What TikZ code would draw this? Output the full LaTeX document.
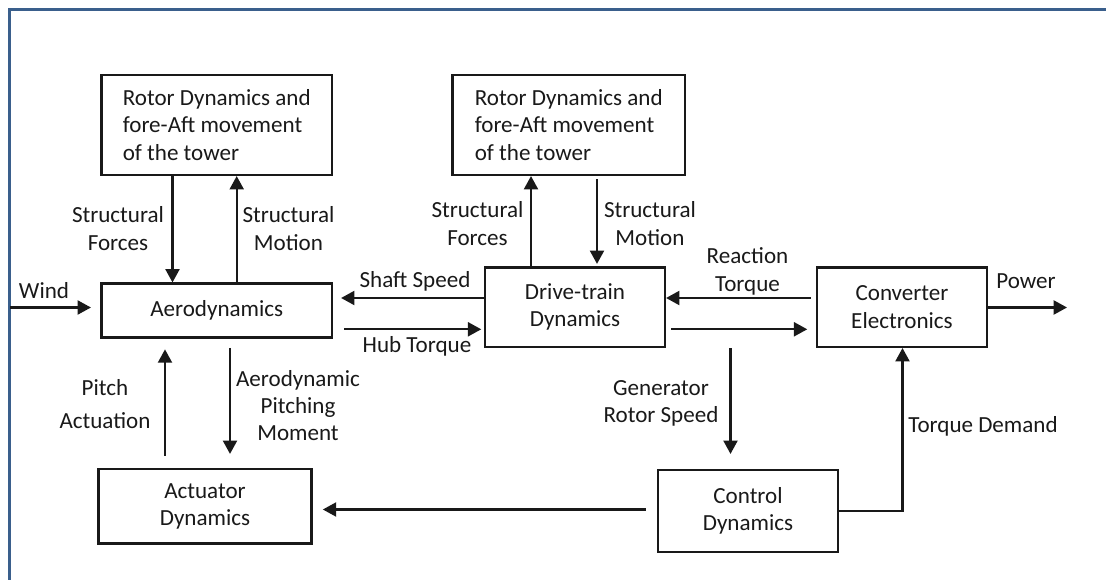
\documentclass[tikz,border=0pt]{standalone}
\usepackage{fontspec}
\setmainfont{Carlito}
\usetikzlibrary{arrows.meta}
\definecolor{framecol}{RGB}{58,95,140}
\definecolor{ink}{RGB}{25,25,25}
\begin{document}
\begin{tikzpicture}[x=0.75pt,y=-0.75pt,
  every node/.style={font=\fontsize{17.3}{20.5}\selectfont, text=ink},
  box/.style={draw=ink, line width=1.6pt, align=center, inner sep=0pt},
  lbl/.style={align=center, inner sep=0pt},
  flow/.style={draw=ink, line width=1.6pt, -{Triangle[length=10pt,width=10.5pt]}}]
\useasboundingbox (0,0) rectangle (1106,580);

% page frame
\draw[framecol, line width=2.4pt] (9.5,580) -- (9.5,9.5) -- (1106,9.5);

% blocks
\node[box, align=left, minimum width=172.9pt, minimum height=75pt] (rotA) at (216.75,125)
  {Rotor Dynamics and\\fore-Aft movement\\of the tower};
\node[box, align=left, minimum width=174.4pt, minimum height=75pt] (rotB) at (568.75,125)
  {Rotor Dynamics and\\fore-Aft movement\\of the tower};
\node[box, minimum width=172.9pt, minimum height=40.5pt] (aero) at (216.75,310.5) {Aerodynamics};
\node[box, minimum width=135pt, minimum height=59.6pt] (drive) at (575,307.25) {Drive-train\\Dynamics};
\node[box, minimum width=127.5pt, minimum height=59.6pt] (conv) at (902,307.25) {Converter\\Electronics};
\node[box, minimum width=159.75pt, minimum height=55.9pt] (act) at (205,506.25) {Actuator\\Dynamics};
\node[box, minimum width=135pt, minimum height=61.5pt] (ctrl) at (748,511) {Control\\Dynamics};

% signal labels
\node[lbl] (lWind) at (44,291) {Wind};
\node[lbl] (lSFL) at (118,228.5) {Structural\\Forces};
\node[lbl] (lSML) at (288.5,228.5) {Structural\\Motion};
\node[lbl] (lSFR) at (477.5,223.5) {Structural\\Forces};
\node[lbl] (lSMR) at (650,223.5) {Structural\\Motion};
\node[lbl] (lPA) at (105,404) {Pitch\\[4pt]Actuation};
\node[lbl] (lAPM) at (298,405.5) {Aerodynamic\\Pitching\\Moment};
\node[lbl] (lShaft) at (415,281) {Shaft Speed};
\node[lbl] (lHub) at (417,346) {Hub Torque};
\node[lbl] (lReact) at (747.5,271.5) {Reaction\\Torque};
\node[lbl] (lPow) at (1026,281) {Power};
\node[lbl] (lGen) at (661,403.5) {Generator\\Rotor Speed};
\node[lbl] (lTD) at (983,426) {Torque Demand};

% signal columns and rows
\coordinate (cSFL) at (172.5,0);
\coordinate (cSML) at (236.7,0);
\coordinate (cPA) at (165,0);
\coordinate (cAPM) at (230,0);
\coordinate (cSFR) at (531,0);
\coordinate (cSMR) at (597,0);
\coordinate (cGRS) at (730.5,0);
\coordinate (cTD) at (902.5,0);
\coordinate (yTop) at (0,298);
\coordinate (yBot) at (0,329.3);
\coordinate (yCA) at (0,509.5);
\coordinate (yTD) at (0,511);
\coordinate (windin) at (10,307.5);
\coordinate (powout) at (1067,307.5);

% connectors
\draw[flow, shorten >=7.1pt] (windin) -- (aero.west |- windin);
\draw[flow] (rotA.south -| cSFL) -- (aero.north -| cSFL);
\draw[flow] (aero.north -| cSML) -- (rotA.south -| cSML);
\draw[flow, shorten <=9.2pt, shorten >=8.1pt] (act.north -| cPA) -- (aero.south -| cPA);
\draw[flow, shorten <=6.9pt, shorten >=10.5pt] (aero.south -| cAPM) -- (act.north -| cAPM);
\draw[flow, shorten >=6pt] (drive.west |- yTop) -- (aero.east |- yTop);
\draw[flow, shorten <=8.3pt, shorten >=2pt] (aero.east |- yBot) -- (drive.west |- yBot);
\draw[flow] (drive.north -| cSFR) -- (rotB.south -| cSFR);
\draw[flow, shorten <=2.5pt, shorten >=1.9pt] (rotB.south -| cSMR) -- (drive.north -| cSMR);
\draw[flow, shorten <=4pt] (conv.west |- yTop) -- (drive.east |- yTop);
\draw[flow, shorten <=3.75pt, shorten >=6.5pt] (drive.east |- yBot) -- (conv.west |- yBot);
\draw[flow] (conv.east |- powout) -- (powout);
\draw[flow, shorten >=11.25pt] (drive.south -| cGRS) -- (ctrl.north -| cGRS);
\draw[flow, shorten <=8.5pt, shorten >=7.7pt] (ctrl.west |- yCA) -- (act.east |- yCA);
\draw[flow] (ctrl.east |- yTD) -| (conv.south -| cTD);
\end{tikzpicture}
\end{document}
